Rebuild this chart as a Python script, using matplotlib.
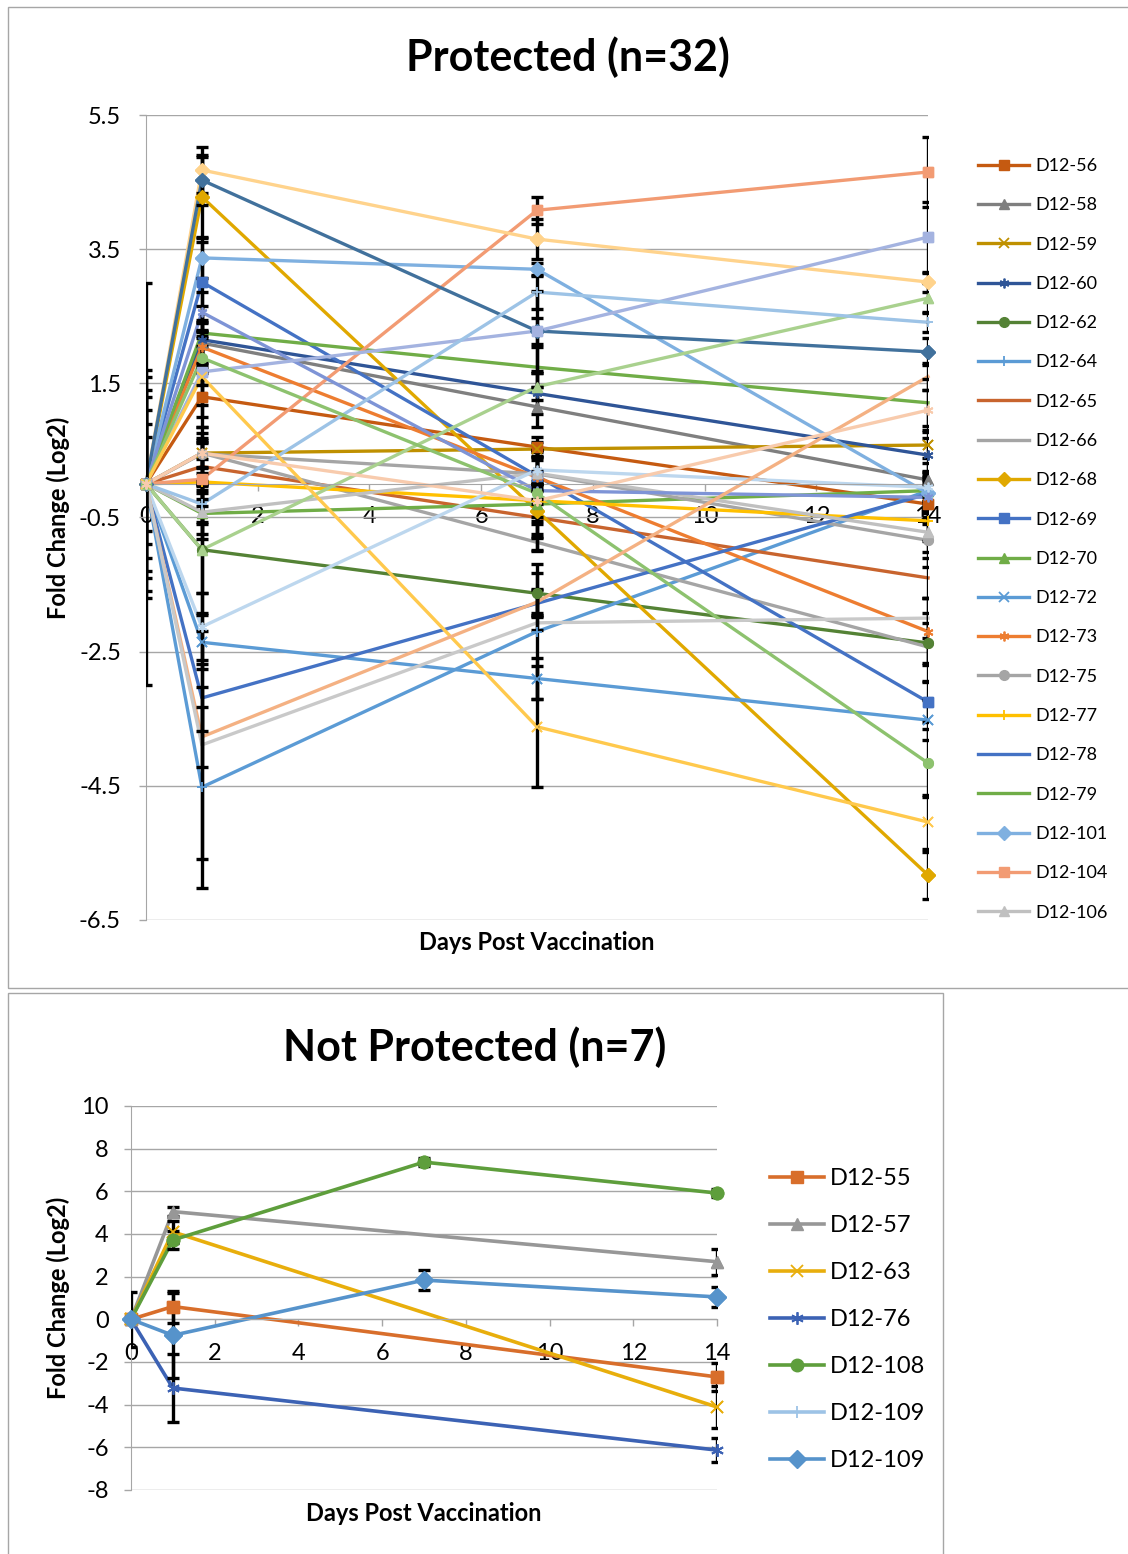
import numpy as np
import matplotlib
matplotlib.use("Agg")
import matplotlib.pyplot as plt
from matplotlib.patches import Rectangle

plt.rcParams["font.family"] = ["Lato", "DejaVu Sans"]
plt.rcParams["axes.unicode_minus"] = False

ASTER = (6, 2, 0)

# ---------------- Protected (n=32) ----------------
days = [0, 1, 7, 14]

prot_names = ["D12-56", "D12-58", "D12-59", "D12-60", "D12-62", "D12-64", "D12-65",
              "D12-66", "D12-68", "D12-69", "D12-70", "D12-72", "D12-73", "D12-75",
              "D12-77", "D12-78", "D12-79", "D12-101", "D12-104", "D12-106",
              "D12-107", "D12-110", "D12-111", "D12-112", "D12-113", "D12-114",
              "D12-115", "D12-116", "D12-117", "D12-118", "D12-119", "D12-120"]
prot_colors = ["#C55A11", "#7F7F7F", "#BF9000", "#2F5597", "#548235", "#5B9BD5", "#C8642E",
               "#A5A5A5", "#E0A800", "#4472C4", "#70AD47", "#5B9BD5", "#ED7D31", "#A5A5A5",
               "#FFC000", "#4472C4", "#70AD47", "#7FB0E0", "#F29B73", "#C0C0C0",
               "#FFD38C", "#41719C", "#7E94D6", "#A4B3E0", "#A9D18E", "#9DC3E6",
               "#8DC26E", "#FFC94D", "#BDD7EE", "#F4B183", "#F8CBAD", "#C9C9C9"]
prot_markers = ["s", "^", "x", ASTER, "o", "+", None,
                None, "D", "s", "^", "x", ASTER, "o",
                "+", None, None, "D", "s", "^",
                "D", "D", ASTER, "s", "^", "+",
                "o", "x", ASTER, None, ASTER, None]

d1 = [1.30, 2.10, 0.46, 2.15, -0.98, -4.52, 0.26,
      0.46, 4.28, 3.01, -0.44, -2.36, 2.04, 0.45,
      0.03, -3.19, 2.25, 3.37, 0.07, -0.42,
      4.68, 4.53, 2.56, 1.67, -0.98, -0.30,
      1.88, 1.60, -2.13, -3.77, 0.46, -3.89]
d7 = [0.55, 1.15, 0.52, 1.35, -1.63, -2.20, -0.50,
      -0.87, -0.40, 0.12, -0.30, -2.90, 0.10, 0.15,
      -0.25, -1.78, 1.74, 3.20, 4.08, 0.16,
      3.65, 2.28, -0.10, 2.28, 1.45, 2.86,
      -0.14, -3.62, 0.21, -1.76, -0.25, -2.07]
d14 = [-0.30, 0.06, 0.58, 0.43, -2.37, -0.10, -1.40,
       -2.43, -5.83, -3.25, -0.10, -3.52, -2.20, -0.84,
       -0.55, -0.15, 1.21, -0.14, 4.65, -0.72,
       3.01, 1.97, -0.20, 3.68, 2.77, 2.41,
       -4.16, -5.04, -0.05, 1.60, 1.10, -2.00]

e0 = [0, 0, 0, 0, 1.1, 3.0, 0,
      0, 0, 0, 0, 1.6, 0, 0,
      0.7, 0, 0, 0, 0, 1.3,
      0, 0, 0, 0, 0.9, 0,
      0, 0, 1.4, 0, 0, 1.7]
e1 = [0.45, 0.30, 0.30, 0.50, 0.65, 1.50, 0.35,
      0.20, 0.60, 0.60, 0.30, 0.40, 0.25, 0.40,
      0.60, 0.50, 0.20, 0.30, 0.30, 0.40,
      0.34, 0.37, 0.30, 0.50, 0.95, 0.30,
      0.40, 0.60, 0.50, 0.45, 0.22, 1.70]
e7 = [0.15, 0.30, 0.10, 0.30, 0.30, 1.00, 0.50,
      0.12, 0.40, 0.35, 0.30, 0.30, 0.40, 0.25,
      0.25, 0.20, 0.30, 0.10, 0.20, 0.20,
      0.30, 0.20, 0.30, 0.60, 0.20, 0.25,
      0.65, 0.90, 0.30, 0.20, 0.30, 0.10]
e14 = [0.30, 0.25, 0.20, 0.25, 0.30, 0.30, 0.30,
       0.50, 0.35, 0.30, 0.20, 0.30, 0.50, 0.40,
       0.30, 0.20, 0.35, 0.20, 0.52, 0.30,
       0.15, 0.20, 0.30, 0.53, 0.22, 0.15,
       0.50, 0.40, 0.20, 0.20, 0.30, 0.30]

# ---------------- Not Protected (n=7) ----------------
np_names = ["D12-55", "D12-57", "D12-63", "D12-76", "D12-108", "D12-109", "D12-109"]
np_colors = ["#D86E2B", "#979797", "#E8AE0C", "#3C62B4", "#5E9E3C", "#9DC3E6", "#5693CB"]
np_markers = ["s", "^", "x", ASTER, "o", "+", "D"]
np_vals = [
    [0, 0.60, np.nan, -2.70],
    [0, 5.05, np.nan, 2.70],
    [0, 4.10, np.nan, -4.11],
    [0, -3.22, np.nan, -6.13],
    [0, 3.72, 7.37, 5.92],
    [np.nan, np.nan, np.nan, np.nan],
    [0, -0.75, 1.84, 1.05],
]
np_errs = [
    [0, 0.75, 0, 0.65],
    [0, 0.20, 0, 0.60],
    [0, 0.50, 0, 1.00],
    [0, 1.60, 0, 0.55],
    [0, 0.40, 0.20, 0.20],
    [0, 0, 0, 0],
    [1.30, 2.00, 0.45, 0.45],
]

W, H = 1128, 1554
fig = plt.figure(figsize=(W / 100, H / 100), dpi=100)

# panel borders
fig.patches.append(Rectangle((8 / W, 1 - 988 / H), 1.2, (988 - 7) / H, transform=fig.transFigure,
                             fill=False, edgecolor="#A6A6A6", linewidth=1.0))
fig.patches.append(Rectangle((8 / W, 1 - 1560 / H), (943 - 8) / W, (1560 - 993) / H,
                             transform=fig.transFigure, fill=False, edgecolor="#A6A6A6", linewidth=1.0))

GRID = "#A6A6A6"


def style_axes(ax, ylo, yhi, ystep, tick_size, ypad, xpad):
    ax.set_xlim(0, 14)
    ax.set_ylim(ylo, yhi)
    ax.set_yticks(np.arange(ylo, yhi + 0.01, ystep))
    ax.set_xticks(np.arange(0, 15, 2))
    ax.grid(axis="y", color=GRID, linewidth=1.0)
    ax.set_axisbelow(True)
    for s in ["top", "right"]:
        ax.spines[s].set_visible(False)
    ax.spines["left"].set_color(GRID)
    ax.spines["bottom"].set_color(GRID)
    ax.spines["bottom"].set_position(("data", 0))
    ax.tick_params(axis="both", colors=GRID, labelcolor="black", labelsize=tick_size,
                   length=5, width=1.0)
    ax.tick_params(axis="y", pad=ypad)
    ax.tick_params(axis="x", pad=xpad)


def draw_series(ax, x, y, err, color, marker, label, lw, ms):
    x = np.asarray(x, float)
    y = np.asarray(y, float)
    err = np.asarray(err, float)
    ok = ~np.isnan(y)
    mew = 1.3 if marker in ("x", "+", ASTER) else 1.0
    ax.plot(x[ok], y[ok], color=color, lw=lw, marker=marker, ms=ms, mew=mew,
            label=label, zorder=2, clip_on=False)
    m = ok & (err > 0)
    if m.any():
        ax.errorbar(x[m], y[m], yerr=err[m], fmt="none", ecolor="black",
                    elinewidth=2.4, capsize=4.5, capthick=2.4, zorder=3)
    if marker is not None:
        ax.plot(x[ok], y[ok], color=color, lw=0, marker=marker, ms=ms, mew=mew,
                zorder=4, clip_on=False)


# ---- top chart ----
ax1 = fig.add_axes([146 / W, 1 - 920 / H, (928 - 146) / W, (920 - 115) / H])
style_axes(ax1, -6.5, 5.5, 2, 17, 13, 11)
ax1.set_yticklabels([f"{v:.1f}" for v in np.arange(-6.5, 5.51, 2)])
for i in range(len(prot_names)):
    draw_series(ax1, days, [0, d1[i], d7[i], d14[i]], [e0[i], e1[i], e7[i], e14[i]],
                prot_colors[i], prot_markers[i], prot_names[i], 2.4, 7)
ax1.set_xlabel("Days Post Vaccination", fontsize=17, fontweight="bold")
ax1.xaxis.set_label_coords(0.5, -0.014)
ax1.set_ylabel("Fold Change (Log2)", fontsize=17, fontweight="bold")
ax1.yaxis.set_label_coords(-0.097, 0.5)
fig.text(568 / W, 1 - 57 / H, "Protected (n=32)", ha="center", va="center",
         fontsize=31, fontweight="bold")
h, l = ax1.get_legend_handles_labels()
fig.legend(h[:20], l[:20], loc="upper left", bbox_to_anchor=(978 / W, 1 - 158 / H),
           frameon=False, fontsize=13, handlelength=2.85, handletextpad=0.35,
           labelspacing=1.29, borderaxespad=0, borderpad=0)

# ---- bottom chart ----
ax2 = fig.add_axes([131 / W, 1 - 1490 / H, (717 - 131) / W, (1490 - 1106) / H])
style_axes(ax2, -8, 10, 2, 17, 11, 12)
for i in range(len(np_names)):
    draw_series(ax2, days, np_vals[i], np_errs[i], np_colors[i], np_markers[i],
                np_names[i], 2.6, 9)
ax2.set_xlabel("Days Post Vaccination", fontsize=17, fontweight="bold")
ax2.xaxis.set_label_coords(0.5, -0.03)
ax2.set_ylabel("Fold Change (Log2)", fontsize=17, fontweight="bold")
ax2.yaxis.set_label_coords(-0.104, 0.5)
fig.text(475 / W, 1 - 1047 / H, "Not Protected (n=7)", ha="center", va="center",
         fontsize=31, fontweight="bold")
fig.legend(loc="upper left", handles=ax2.get_legend_handles_labels()[0],
           labels=np_names, bbox_to_anchor=(770 / W, 1 - 1168 / H),
           frameon=False, fontsize=17, handlelength=2.3, handletextpad=0.25,
           labelspacing=1.1, borderaxespad=0, borderpad=0)

fig.savefig("out.png", dpi=100)
